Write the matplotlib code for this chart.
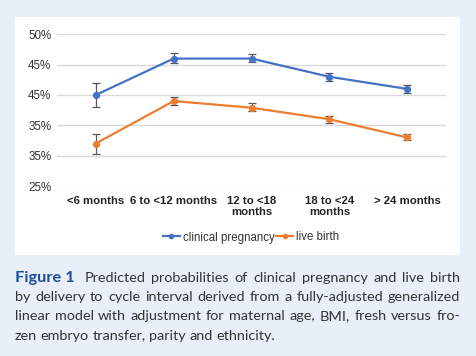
import matplotlib
matplotlib.use("Agg")
import matplotlib.pyplot as plt
from matplotlib.patches import Rectangle

categories = ["<6 months", "6 to <12 months", "12 to <18\nmonths", "18 to <24\nmonths", "> 24 months"]
clinical = [40.0, 46.0, 46.0, 43.0, 41.0]
clinical_lo = [38.1, 45.2, 45.4, 42.3, 40.4]
clinical_hi = [41.9, 46.9, 46.7, 43.7, 41.6]
live = [32.0, 39.0, 37.9, 36.0, 33.0]
live_lo = [30.2, 38.3, 37.4, 35.3, 32.5]
live_hi = [33.6, 39.7, 38.6, 36.6, 33.5]
yticks = [25, 30, 35, 40, 45, 50]
ytick_labels = ["25%", "35%", "35%", "45%", "45%", "50%"]

caption_lines = [
    "Predicted probabilities of clinical pregnancy and live birth",
    "by delivery to cycle interval derived from a fully-adjusted generalized",
    "linear model with adjustment for maternal age, BMI, fresh versus fro-",
    "zen embryo transfer, parity and ethnicity.",
]

W, H = 476, 356
fig = plt.figure(figsize=(W / 100, H / 100), dpi=100)
fig.patch.set_facecolor("#e8eff9")
fig.patches.append(Rectangle((15 / W, 1 - 254.7 / H), 445 / W, 238 / H,
                             transform=fig.transFigure, facecolor="white",
                             edgecolor="none", zorder=-5))

ax = fig.add_axes([56.8 / W, 1 - 186 / H, (446.2 - 56.8) / W, (186 - 34.3) / H])
ax.set_zorder(2)
ax.set_facecolor("none")
x = list(range(len(categories)))
blue, orange, ecol = "#4472C4", "#ED7D31", "#595959"

for vals, lo, hi, col, lab in [(clinical, clinical_lo, clinical_hi, blue, "clinical pregnancy"),
                               (live, live_lo, live_hi, orange, "live birth")]:
    yerr = [[v - l for v, l in zip(vals, lo)], [h - v for v, h in zip(vals, hi)]]
    ax.errorbar(x, vals, yerr=yerr, fmt="none", ecolor=ecol, elinewidth=0.9,
                capsize=2.6, capthick=0.9, zorder=2)
    ax.plot(x, vals, color=col, lw=1.6, marker="o", ms=4.2, label=lab, zorder=3)

ax.set_xlim(-0.5, len(categories) - 0.5)
ax.set_ylim(25, 50)
ax.set_yticks(yticks)
ax.set_yticklabels(ytick_labels, fontsize=8.4, color="#333333", family="Liberation Sans")
ax.set_xticks(x)
ax.set_xticklabels(categories, fontsize=8.2, fontweight="bold", color="#222222",
                   family="Liberation Sans", linespacing=1.2)
ax.tick_params(axis="both", length=0)
ax.tick_params(axis="y", pad=4)
ax.tick_params(axis="x", pad=7)
ax.grid(axis="y", color="#d9d9d9", lw=1.0)
ax.set_axisbelow(True)
for s in ax.spines.values():
    s.set_visible(False)

leg = fig.legend(loc="center", bbox_to_anchor=(251 / W, 1 - 237.5 / H), ncol=2,
                 frameon=False, handlelength=1.55, handletextpad=0.25,
                 columnspacing=0.05, prop={"family": "Liberation Sans", "size": 8.3})
for t in leg.get_texts():
    t.set_color("#333333")
for h in leg.legend_handles:
    h.set_markersize(3)

# caption with justification
renderer = fig.canvas.get_renderer()
left_px, right_px = 15.0, 460.0
ys = [278, 297, 316.5, 335.5]
cfont = dict(family="Lato", size=10.35, color="#333333")

def width_px(t):
    return t.get_window_extent(renderer).width

ha = fig.text(0, 0, "a a", **cfont)
hb = fig.text(0, 0, "a", **cfont)
sp_nat = width_px(ha) - 2 * width_px(hb)
ha.remove()
hb.remove()

for i, line in enumerate(caption_lines):
    ypos = 1 - ys[i] / H
    items = []
    if i == 0:
        t0 = fig.text(0, ypos, "Figure 1", family="Lato", size=11.8, weight="bold",
                      color="#1f4e9c", va="center")
        items.append(t0)
    for w in line.split(" "):
        items.append(fig.text(0, ypos, w, va="center", **cfont))
    widths = [width_px(t) for t in items]
    gaps = [sp_nat] * (len(items) - 1)
    if i == 0:
        gaps[0] = sp_nat * 2.2
    if i < len(caption_lines) - 1:
        extra = (right_px - left_px) - sum(widths) - sum(gaps)
        gaps = [g + extra / len(gaps) for g in gaps]
    xp = left_px
    for k, t in enumerate(items):
        t.set_x(xp / W)
        xp += widths[k] + (gaps[k] if k < len(gaps) else 0)

fig.savefig("out.png", dpi=100, facecolor=fig.get_facecolor())
